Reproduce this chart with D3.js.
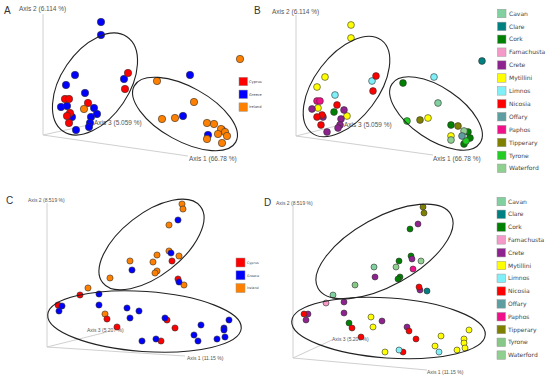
<!DOCTYPE html>
<html><head><meta charset="utf-8">
<script src="https://cdn.jsdelivr.net/npm/d3@7/dist/d3.min.js"></script>
<style>body{margin:0;background:#fff} svg{display:block}</style>
</head><body>
<svg id="chart" width="550" height="381"></svg>
<script>
// ---------- DATA ----------
const countries = ["Cyprus", "Greece", "Ireland"];
const countryColors = ["#ff0000", "#0000ff", "#ff8000"];
const regions = ["Cavan","Clare","Cork","Famachusta","Crete","Mytillini","Limnos","Nicosia","Offary","Paphos","Tipperary","Tyrone","Waterford"];
const regionColorsB = ["#80d0a0","#008080","#008000","#f59ac8","#8e228e","#ffff00","#80f0f8","#ff0000","#5f9ea0","#f0108a","#808000","#22cc22","#8fcf8f"];
const regionColorsD = ["#80d0a0","#008080","#008000","#f59ac8","#8e228e","#ffff00","#80f0f8","#ff0000","#5f9ea0","#f0108a","#808000","#86c886","#8fcf8f"];
const axisLabelsAB = ["Axis 1 (66.78 %)", "Axis 2 (6.114 %)", "Axis 3 (5.059 %)"];
const axisLabelsCD = ["Axis 1 (11.15 %)", "Axis 2 (8.519 %)", "Axis 3 (5.207 %)"];
const panelLetters = ["A", "B", "C", "D"];

// projected PCoA coordinates [horizontal, vertical, group]
const pointsA = [
  [58,113,"Greece"],[58,100,"Greece"],[32,60,"Greece"],[23,50,"Greece"],[42,42,"Greece"],[18,28,"Greece"],[24,29,"Greece"],
  [51,27,"Greece"],[54,21,"Greece"],[29,18,"Greece"],[48,18,"Greece"],[47,12,"Greece"],[46,8,"Greece"],[33,5,"Greece"],
  [81,56,"Greece"],[147,60,"Greece"],[140,19,"Greece"],[165,0,"Greece"],[179,5,"Greece"],
  [85,62,"Cyprus"],[82,46,"Cyprus"],[22,36,"Cyprus"],[26,36,"Cyprus"],[45,32,"Cyprus"],[27,22,"Cyprus"],[24,19,"Cyprus"],[26,12,"Cyprus"],
  [41,26,"Ireland"],[114,54,"Ireland"],[197,76,"Ireland"],[151,33,"Ireland"],[119,16,"Ireland"],[132,17,"Ireland"],[164,12,"Ireland"],
  [171,11,"Ireland"],[178,6,"Ireland"],[182,3,"Ireland"],[175,1,"Ireland"],[184,-1,"Ireland"],[164,-4,"Ireland"],[179,-8,"Ireland"]
];
const pointsB = [
  [55,111,"Mytillini"],[55,98,"Mytillini"],[29,59,"Mytillini"],[21,49,"Mytillini"],[51,20,"Mytillini"],[22,28,"Mytillini"],
  [132,18,"Mytillini"],[155,0,"Mytillini"],
  [76,55,"Limnos"],[39,41,"Limnos"],[138,59,"Limnos"],
  [80,60,"Nicosia"],[77,45,"Nicosia"],[41,31,"Nicosia"],
  [21,35,"Paphos"],[24,35,"Paphos"],
  [16,27,"Crete"],[48,26,"Crete"],[45,17,"Crete"],[44,11,"Crete"],[42,8,"Crete"],[31,4,"Crete"],[27,19,"Crete"],
  [26,21,"Nicosia"],[21,19,"Nicosia"],[25,11,"Nicosia"],
  [38,24,"Cork"],[107,53,"Cork"],[155,11,"Cork"],[172,4,"Cork"],[174,-2,"Cork"],[168,-8,"Cork"],
  [186,75,"Clare"],[142,33,"Cavan"],[168,5,"Waterford"],[155,-4,"Waterford"],
  [111,15,"Tyrone"],[170,-5,"Tyrone"],[124,16,"Tipperary"],[162,10,"Tipperary"],[166,0,"Offary"]
];
const pointsC = [
  [135,143,"Ireland"],[136,138,"Ireland"],[122,122,"Ireland"],[122,96,"Ireland"],[110,92,"Ireland"],[132,91,"Ireland"],[83,86,"Ireland"],
  [106,85,"Ireland"],[110,76,"Ireland"],[108,74,"Ireland"],[63,69,"Ireland"],[137,62,"Ireland"],[41,59,"Ireland"],[58,33,"Ireland"],
  [125,86,"Cyprus"],[131,68,"Cyprus"],[33,52,"Cyprus"],[11,42,"Cyprus"],[60,28,"Cyprus"],[70,20,"Cyprus"],[120,27,"Cyprus"],[128,19,"Cyprus"],[114,6,"Cyprus"],
  [131,127,"Greece"],[124,94,"Greece"],[85,77,"Greece"],[132,65,"Greece"],[52,53,"Greece"],[15,41,"Greece"],[12,36,"Greece"],[52,42,"Greece"],
  [80,39,"Greece"],[92,36,"Greece"],[83,29,"Greece"],[118,29,"Greece"],[154,22,"Greece"],[182,27,"Greece"],[177,19,"Greece"],[177,17,"Greece"],
  [147,12,"Greece"],[178,10,"Greece"],[170,8,"Greece"],[151,6,"Greece"],[109,8,"Greece"],[95,6,"Greece"]
];
const pointsD = [
  [130,151,"Tipperary"],[131,145,"Tipperary"],
  [117,129,"Cork"],[118,102,"Cork"],[106,97,"Cork"],[107,81,"Cork"],[105,79,"Cork"],[56,35,"Cork"],
  [128,97,"Waterford"],[81,91,"Cavan"],[103,91,"Waterford"],[62,73,"Tyrone"],[40,63,"Cavan"],
  [125,134,"Crete"],[119,99,"Crete"],[82,81,"Crete"],[127,68,"Crete"],[51,56,"Crete"],[51,45,"Crete"],[15,44,"Crete"],[13,38,"Crete"],[89,37,"Crete"],[114,31,"Crete"],
  [120,89,"Paphos"],[134,67,"Clare"],[33,55,"Famachusta"],
  [126,71,"Nicosia"],[11,44,"Nicosia"],[59,30,"Nicosia"],[68,21,"Nicosia"],[116,27,"Nicosia"],[123,19,"Nicosia"],[110,6,"Nicosia"],
  [78,41,"Mytillini"],[80,31,"Mytillini"],[148,22,"Mytillini"],[176,28,"Mytillini"],[171,19,"Mytillini"],[171,15,"Mytillini"],
  [142,12,"Mytillini"],[172,10,"Mytillini"],[164,8,"Mytillini"],[92,6,"Mytillini"],
  [106,8,"Limnos"],[146,6,"Limnos"]
];
// confidence ellipses [cx, cy, rx, ry, rotation deg]
const ellipsesA = [[52,51,57,34,-56],[142,21,58,27,29]];
const ellipsesB = [[50.5,49.5,58,32,-53],[140,22.5,53,26,34]];
const ellipsesC = [[104.5,102.5,62,31,-38],[97.5,25.5,97,30,4]];
const ellipsesD = [[91.5,106.5,76,34,-29],[95.5,30,97,30,4]];

// ---------- DRAW ----------
const svg = d3.select("#chart");
const FONT = "'Liberation Sans', Arial, sans-serif";

const panels = [
  {letter:0, ox:43, oy:135, pts:pointsA, ell:ellipsesA, keys:countries, cols:countryColors, labels:axisLabelsAB, r:3.7,
   ax:{top:121, a1:[145,-21], a3:[50,11]}, lfs:6.5,
   lab2:[19,10.5], lab1:[189,160.5], lab3:[94,124.5], letterPos:[4,14],
   leg:{x:239, y0:81.5, dy:12.8, s:8.5, fs:3.6, tx:249}},
  {letter:1, ox:296, oy:136, pts:pointsB, ell:ellipsesB, keys:regions, cols:regionColorsB, labels:axisLabelsAB, r:3.4,
   ax:{top:121, a1:[137,-19], a3:[48,12]}, lfs:6.5,
   lab2:[272,13.5], lab1:[433,161], lab3:[344,126.5], letterPos:[254,14],
   leg:{x:497.5, y0:13.5, dy:12.9, s:8.5, fs:6, tx:509}},
  {letter:2, ox:47, oy:347, pts:pointsC, ell:ellipsesC, keys:countries, cols:countryColors, labels:axisLabelsCD, r:3.1,
   ax:{top:144, a1:[138,-9], a3:[60,15]}, lfs:5,
   lab2:[28,202], lab1:[187,360], lab3:[87,332], letterPos:[6,203.5],
   leg:{x:236, y0:262.5, dy:12.8, s:9, fs:3.4, tx:247}},
  {letter:3, ox:293, oy:358, pts:pointsD, ell:ellipsesD, keys:regions, cols:regionColorsD, labels:axisLabelsCD, r:3,
   ax:{top:153, a1:[134,-12], a3:[39,18]}, lfs:5,
   lab2:[276,205], lab1:[427,374], lab3:[332,341], letterPos:[264,206],
   leg:{x:497, y0:201.5, dy:12.8, s:8.5, fs:6, tx:508}}
];

panels.forEach(p => {
  const g = svg.append("g");
  const x = d3.scaleLinear().domain([0, 100]).range([p.ox, p.ox + 100]);
  const y = d3.scaleLinear().domain([0, 100]).range([p.oy, p.oy - 100]);
  const color = d3.scaleOrdinal().domain(p.keys).range(p.cols);

  // axes
  const axLines = [[[0,0],[0,p.ax.top]], [[0,0],p.ax.a1], [[0,0],p.ax.a3]];
  g.selectAll("line.ax").data(axLines).join("line")
    .attr("x1", d => x(d[0][0])).attr("y1", d => y(d[0][1]))
    .attr("x2", d => x(d[1][0])).attr("y2", d => y(d[1][1]))
    .attr("stroke", "#d0d0d0").attr("stroke-width", 1);

  // axis labels
  const labs = [[p.labels[1], p.lab2], [p.labels[0], p.lab1], [p.labels[2], p.lab3]];
  g.selectAll("text.al").data(labs).join("text")
    .attr("x", d => d[1][0]).attr("y", d => d[1][1])
    .attr("font-family", FONT).attr("font-size", p.lfs).attr("fill", "#555")
    .text(d => d[0]);

  // points
  g.selectAll("circle").data(p.pts).join("circle")
    .attr("cx", d => x(d[0])).attr("cy", d => y(d[1])).attr("r", p.r)
    .attr("fill", d => color(d[2])).attr("stroke", "#333").attr("stroke-width", 0.6);

  // ellipses
  g.selectAll("ellipse").data(p.ell).join("ellipse")
    .attr("cx", 0).attr("cy", 0)
    .attr("rx", d => x(d[2]) - x(0)).attr("ry", d => y(0) - y(d[3]))
    .attr("transform", d => `translate(${x(d[0])},${y(d[1])}) rotate(${d[4]})`)
    .attr("fill", "none").attr("stroke", "#222").attr("stroke-width", 1.1);

  // legend
  const L = p.leg;
  const lg = g.selectAll("g.leg").data(p.keys).join("g")
    .attr("transform", (d, i) => `translate(${L.x},${L.y0 + i * L.dy})`);
  lg.append("rect").attr("x", 0).attr("y", -L.s / 2).attr("width", L.s).attr("height", L.s)
    .attr("fill", d => color(d)).attr("stroke", "#999").attr("stroke-width", 0.5);
  lg.append("text").attr("x", L.tx - L.x).attr("y", L.fs * 0.36)
    .attr("font-family", "'DejaVu Sans', Verdana, sans-serif").attr("font-size", L.fs).attr("fill", "#444")
    .text(d => d);

  // panel letter
  g.append("text").attr("x", p.letterPos[0]).attr("y", p.letterPos[1])
    .attr("font-family", FONT).attr("font-size", 10).attr("fill", "#333")
    .text(panelLetters[p.letter]);
});
</script>
</body></html>
